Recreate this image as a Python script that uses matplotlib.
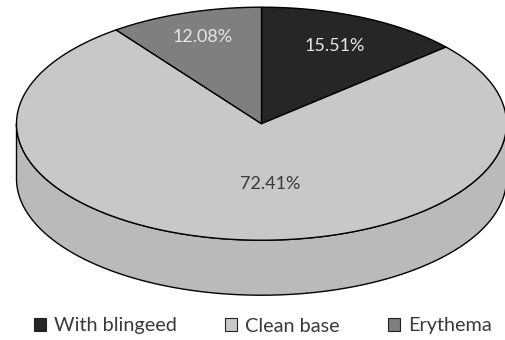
"""Draw the 3D-look pie of base findings (out.png)."""

import numpy as np
import matplotlib

matplotlib.use("Agg")
import matplotlib.pyplot as plt  # noqa: E402
from matplotlib.patches import Patch, Polygon  # noqa: E402

categories = ["With blingeed", "Clean base", "Erythema"]
shares = [15.51, 72.41, 12.08]

COLORS = ["#262626", "#c8c8c8", "#7f7f7f"]
TEXT_COLORS = ["#e6e6e6", "#3a3a3a", "#e6e6e6"]
LABEL_POS = [(335, 46), (270, 184), (203, 37)]
SIDE = "#bababa"

CX, CY = 261.5, 123.7
RX, RY = 245, 116.5
DEPTH = 55
SQUASH = 0.777  # foreshortening of angles on the tilted disc

plt.rcParams["font.family"] = ["Lato", "DejaVu Sans"]

fig = plt.figure(figsize=(5.06, 3.4), dpi=100)
ax = fig.add_axes([0, 0, 1, 1])
ax.set_xlim(0, 506)
ax.set_ylim(340, 0)
ax.axis("off")


def rim(a0, a1):
    # points on the top ellipse, angles clockwise from 12 o'clock
    t = np.radians(np.linspace(a0, a1, 300))
    s = np.arctan2(SQUASH * np.sin(t), np.cos(t))
    return CX + RX * np.sin(s), CY - RY * np.cos(s)


# side wall: front half of the rim pushed down by the depth
s = np.radians(np.linspace(90, 270, 300))
xs, ys = CX + RX * np.sin(s), CY - RY * np.cos(s)
wall = np.r_[np.c_[xs, ys], np.c_[xs, ys + DEPTH][::-1]]
ax.add_patch(Polygon(wall, closed=True, fc=SIDE, ec="black", lw=1))

edges = np.r_[0, np.cumsum(shares)] * 3.6
for i, share in enumerate(shares):
    x, y = rim(edges[i], edges[i + 1])
    pts = np.r_[[[CX, CY]], np.c_[x, y]]
    ax.add_patch(Polygon(pts, closed=True, fc=COLORS[i], ec="black", lw=1, joinstyle="round"))
    ax.text(*LABEL_POS[i], f"{share:.2f}%", ha="center", va="center", fontsize=13,
            color=TEXT_COLORS[i])

handles = [Patch(fc=c, ec="#222222", lw=0.8) for c in COLORS]
ax.legend(handles, categories, ncol=3, loc="center", bbox_to_anchor=(263, 326),
          bbox_transform=ax.transData, frameon=False, fontsize=14.3, labelcolor="#3a3a3a",
          handlelength=0.57, handleheight=0.57, handletextpad=0.42, columnspacing=2.45,
          borderpad=0, borderaxespad=0)

fig.savefig("out.png", dpi=100)
print("wrote out.png")
